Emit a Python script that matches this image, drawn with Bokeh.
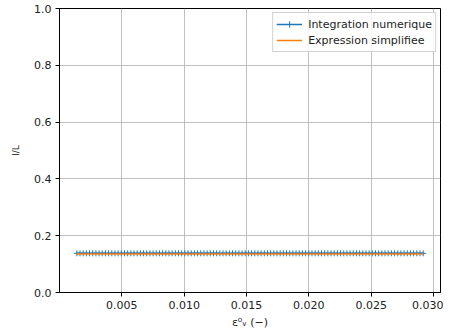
import numpy as np
from bokeh.plotting import figure
from bokeh.models import FixedTicker, NumeralTickFormatter, Range1d
from bokeh.embed import file_html
from bokeh.resources import INLINE

# data
eps_start = 0.00139
eps_end = 0.02917
n_points = 110
ratio_numeric = 0.138
ratio_simplified = 0.136
x_ticks = [0.005, 0.010, 0.015, 0.020, 0.025, 0.030]
y_ticks = [0.0, 0.2, 0.4, 0.6, 0.8, 1.0]

eps = np.linspace(eps_start, eps_end, n_points)
y_num = [ratio_numeric] * n_points
y_simp = [ratio_simplified] * n_points

FONT = "DejaVu Sans"

p = figure(frame_width=381, frame_height=284, output_backend="svg",
           toolbar_location=None,
           x_range=Range1d(0.0, 0.03056), y_range=Range1d(0.0, 1.0),
           min_border_left=59, min_border_right=3, min_border_top=8,
           min_border_bottom=28)

p.background_fill_color = "white"
p.border_fill_color = "white"
p.outline_line_color = "black"
p.outline_line_width = 1
p.outline_line_alpha = 1

for g in (p.xgrid, p.ygrid):
    g.grid_line_color = "#b0b0b0"
    g.grid_line_width = 0.8

p.xaxis.ticker = FixedTicker(ticks=x_ticks)
p.yaxis.ticker = FixedTicker(ticks=y_ticks)
p.xaxis.formatter = NumeralTickFormatter(format="0.000")
p.yaxis.formatter = NumeralTickFormatter(format="0.0")
for ax in (p.xaxis, p.yaxis):
    ax.major_label_text_font = FONT
    ax.major_label_text_font_size = "11px"
    ax.major_label_text_color = "#222222"
    ax.axis_label_text_font = FONT
    ax.axis_label_text_font_size = "11px"
    ax.axis_label_text_font_style = "normal"
    ax.axis_label_text_color = "#222222"
    ax.minor_tick_line_color = None
    ax.major_tick_out = 4
    ax.major_tick_in = 0
    ax.axis_line_color = "black"
    ax.major_tick_line_color = "black"
    ax.axis_label_standoff = 4
    ax.major_label_standoff = 4

p.xaxis.axis_label = "ε⁰ᵥ (−)"
p.yaxis.axis_label = "l/L"
p.yaxis.axis_label_text_font_size = "9px"
p.yaxis.axis_label_standoff = 10

p.line(eps, y_num, line_color="#1f77b4", line_width=1.5,
       legend_label="Integration numerique")
p.scatter(eps, y_num, marker="cross", size=6, line_color="#1f77b4",
          line_width=1, legend_label="Integration numerique")
p.line(eps, y_simp, line_color="#ff7f0e", line_width=1.5,
       legend_label="Expression simplifiee")

leg = p.legend[0]
leg.location = "top_right"
leg.label_text_font = FONT
leg.label_text_font_size = "11px"
leg.label_text_color = "#222222"
leg.border_line_color = "#cccccc"
leg.border_line_alpha = 0.9
leg.background_fill_alpha = 0.8
leg.margin = 4
leg.padding = 3
leg.spacing = 0
leg.label_height = 16
leg.glyph_height = 16
leg.glyph_width = 26
leg.label_standoff = 6

open("out.html", "w").write(file_html(p, INLINE))
